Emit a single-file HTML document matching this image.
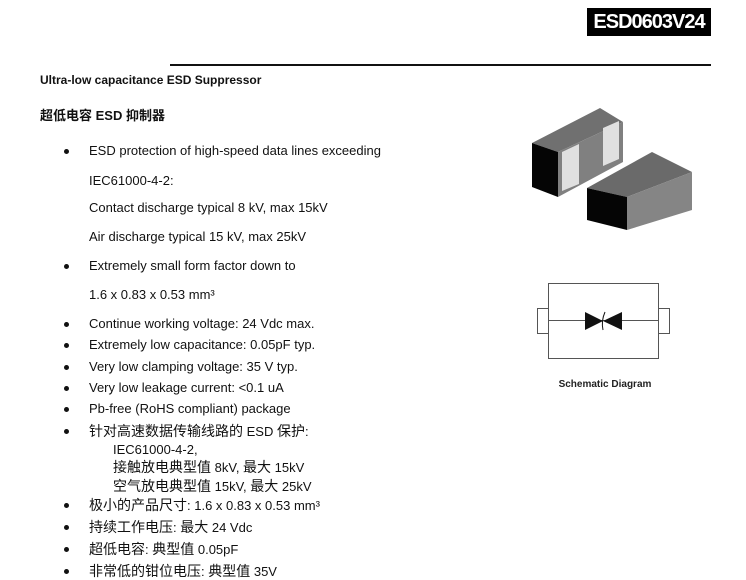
<!DOCTYPE html>
<html><head><meta charset="utf-8"><style>
body{margin:0;width:746px;height:579px;background:#fff;position:relative;overflow:hidden;font-family:"Liberation Sans","Noto Sans CJK SC",sans-serif;color:#111}
.t{position:absolute;white-space:nowrap;font-size:13px;line-height:16px}
.c{font-size:14px}
.b{position:absolute;left:64px;width:5px;height:5px;border-radius:50%;background:#111}
</style></head><body>
<div style="position:absolute;left:587px;top:8px;width:124px;height:28px;background:#000;color:#fff;font-weight:bold;font-size:20px;line-height:28px;text-align:center;letter-spacing:-1px">ESD0603V24</div>
<div style="position:absolute;left:170px;top:64px;width:541px;height:2px;background:#111"></div>
<div class="t" style="left:40px;top:72px;font-weight:bold;font-size:12px">Ultra-low capacitance ESD Suppressor</div>
<div class="t" style="left:40px;top:108px;font-weight:bold;font-size:13px">超低电容 ESD 抑制器</div>

<div class="b" style="top:149px"></div><div class="t" style="left:89px;top:143px">ESD protection of high-speed data lines exceeding</div>
<div class="t" style="left:89px;top:173px">IEC61000-4-2:</div>
<div class="t" style="left:89px;top:200px">Contact discharge typical 8 kV, max 15kV</div>
<div class="t" style="left:89px;top:229px">Air discharge typical 15 kV, max 25kV</div>
<div class="b" style="top:264px"></div><div class="t" style="left:89px;top:258px">Extremely small form factor down to</div>
<div class="t" style="left:89px;top:287px">1.6 x 0.83 x 0.53 mm³</div>
<div class="b" style="top:322px"></div><div class="t" style="left:89px;top:316px">Continue working voltage: 24 Vdc max.</div>
<div class="b" style="top:343px"></div><div class="t" style="left:89px;top:337px">Extremely low capacitance: 0.05pF typ.</div>
<div class="b" style="top:365px"></div><div class="t" style="left:89px;top:359px">Very low clamping voltage: 35 V typ.</div>
<div class="b" style="top:386px"></div><div class="t" style="left:89px;top:380px">Very low leakage current: &lt;0.1 uA</div>
<div class="b" style="top:407px"></div><div class="t" style="left:89px;top:401px">Pb-free (RoHS compliant) package</div>
<div class="b" style="top:429px"></div><div class="t" style="left:89px;top:423px"><span class="c">针对高速数据传输线路的</span> ESD <span class="c">保护</span>:</div>
<div class="t" style="left:113px;top:442px">IEC61000-4-2,</div>
<div class="t" style="left:113px;top:459px"><span class="c">接触放电典型值</span> 8kV, <span class="c">最大</span> 15kV</div>
<div class="t" style="left:113px;top:478px"><span class="c">空气放电典型值</span> 15kV, <span class="c">最大</span> 25kV</div>
<div class="b" style="top:503px"></div><div class="t" style="left:89px;top:497px"><span class="c">极小的产品尺寸</span>: 1.6 x 0.83 x 0.53 mm³</div>
<div class="b" style="top:525px"></div><div class="t" style="left:89px;top:519px"><span class="c">持续工作电压</span>: <span class="c">最大</span> 24 Vdc</div>
<div class="b" style="top:547px"></div><div class="t" style="left:89px;top:541px"><span class="c">超低电容</span>: <span class="c">典型值</span> 0.05pF</div>
<div class="b" style="top:569px"></div><div class="t" style="left:89px;top:563px"><span class="c">非常低的钳位电压</span>: <span class="c">典型值</span> 35V</div>

<svg style="position:absolute;left:0;top:0" width="746" height="579">
<polygon points="532,143 600,108 623,122 558,152" fill="#707070"/>
<polygon points="558,152 623,122 623,162 558,197" fill="#808080"/>
<polygon points="532,143 558,152 558,197 532,187" fill="#050505"/>
<polygon points="562,152 579,144 579,184 562,191" fill="#e0e0e0"/>
<polygon points="603,128 619,121 619,159 603,166" fill="#e0e0e0"/>
<polygon points="587,188 652,152 692,172 627,197" fill="#6a6a6a"/>
<polygon points="627,197 692,172 692,210 627,230" fill="#858585"/>
<polygon points="587,188 627,197 627,230 587,220" fill="#050505"/>
<g stroke="#555" stroke-width="1" fill="none">
<rect x="548.5" y="283.5" width="110" height="75"/>
<rect x="537.5" y="308.5" width="11" height="25"/>
<rect x="658.5" y="308.5" width="11" height="25"/>
<line x1="548" y1="320.5" x2="658" y2="320.5"/>
</g>
<polygon points="585,312 603,321 585,330" fill="#111"/>
<polygon points="622,312 603,321 622,330" fill="#111"/>
<path d="M605,312 Q601,321 603,330" stroke="#111" fill="none" stroke-width="1"/>
<text x="605" y="387" font-family="Liberation Sans,sans-serif" font-weight="bold" font-size="10" text-anchor="middle" fill="#222">Schematic Diagram</text>
</svg>
</body></html>
